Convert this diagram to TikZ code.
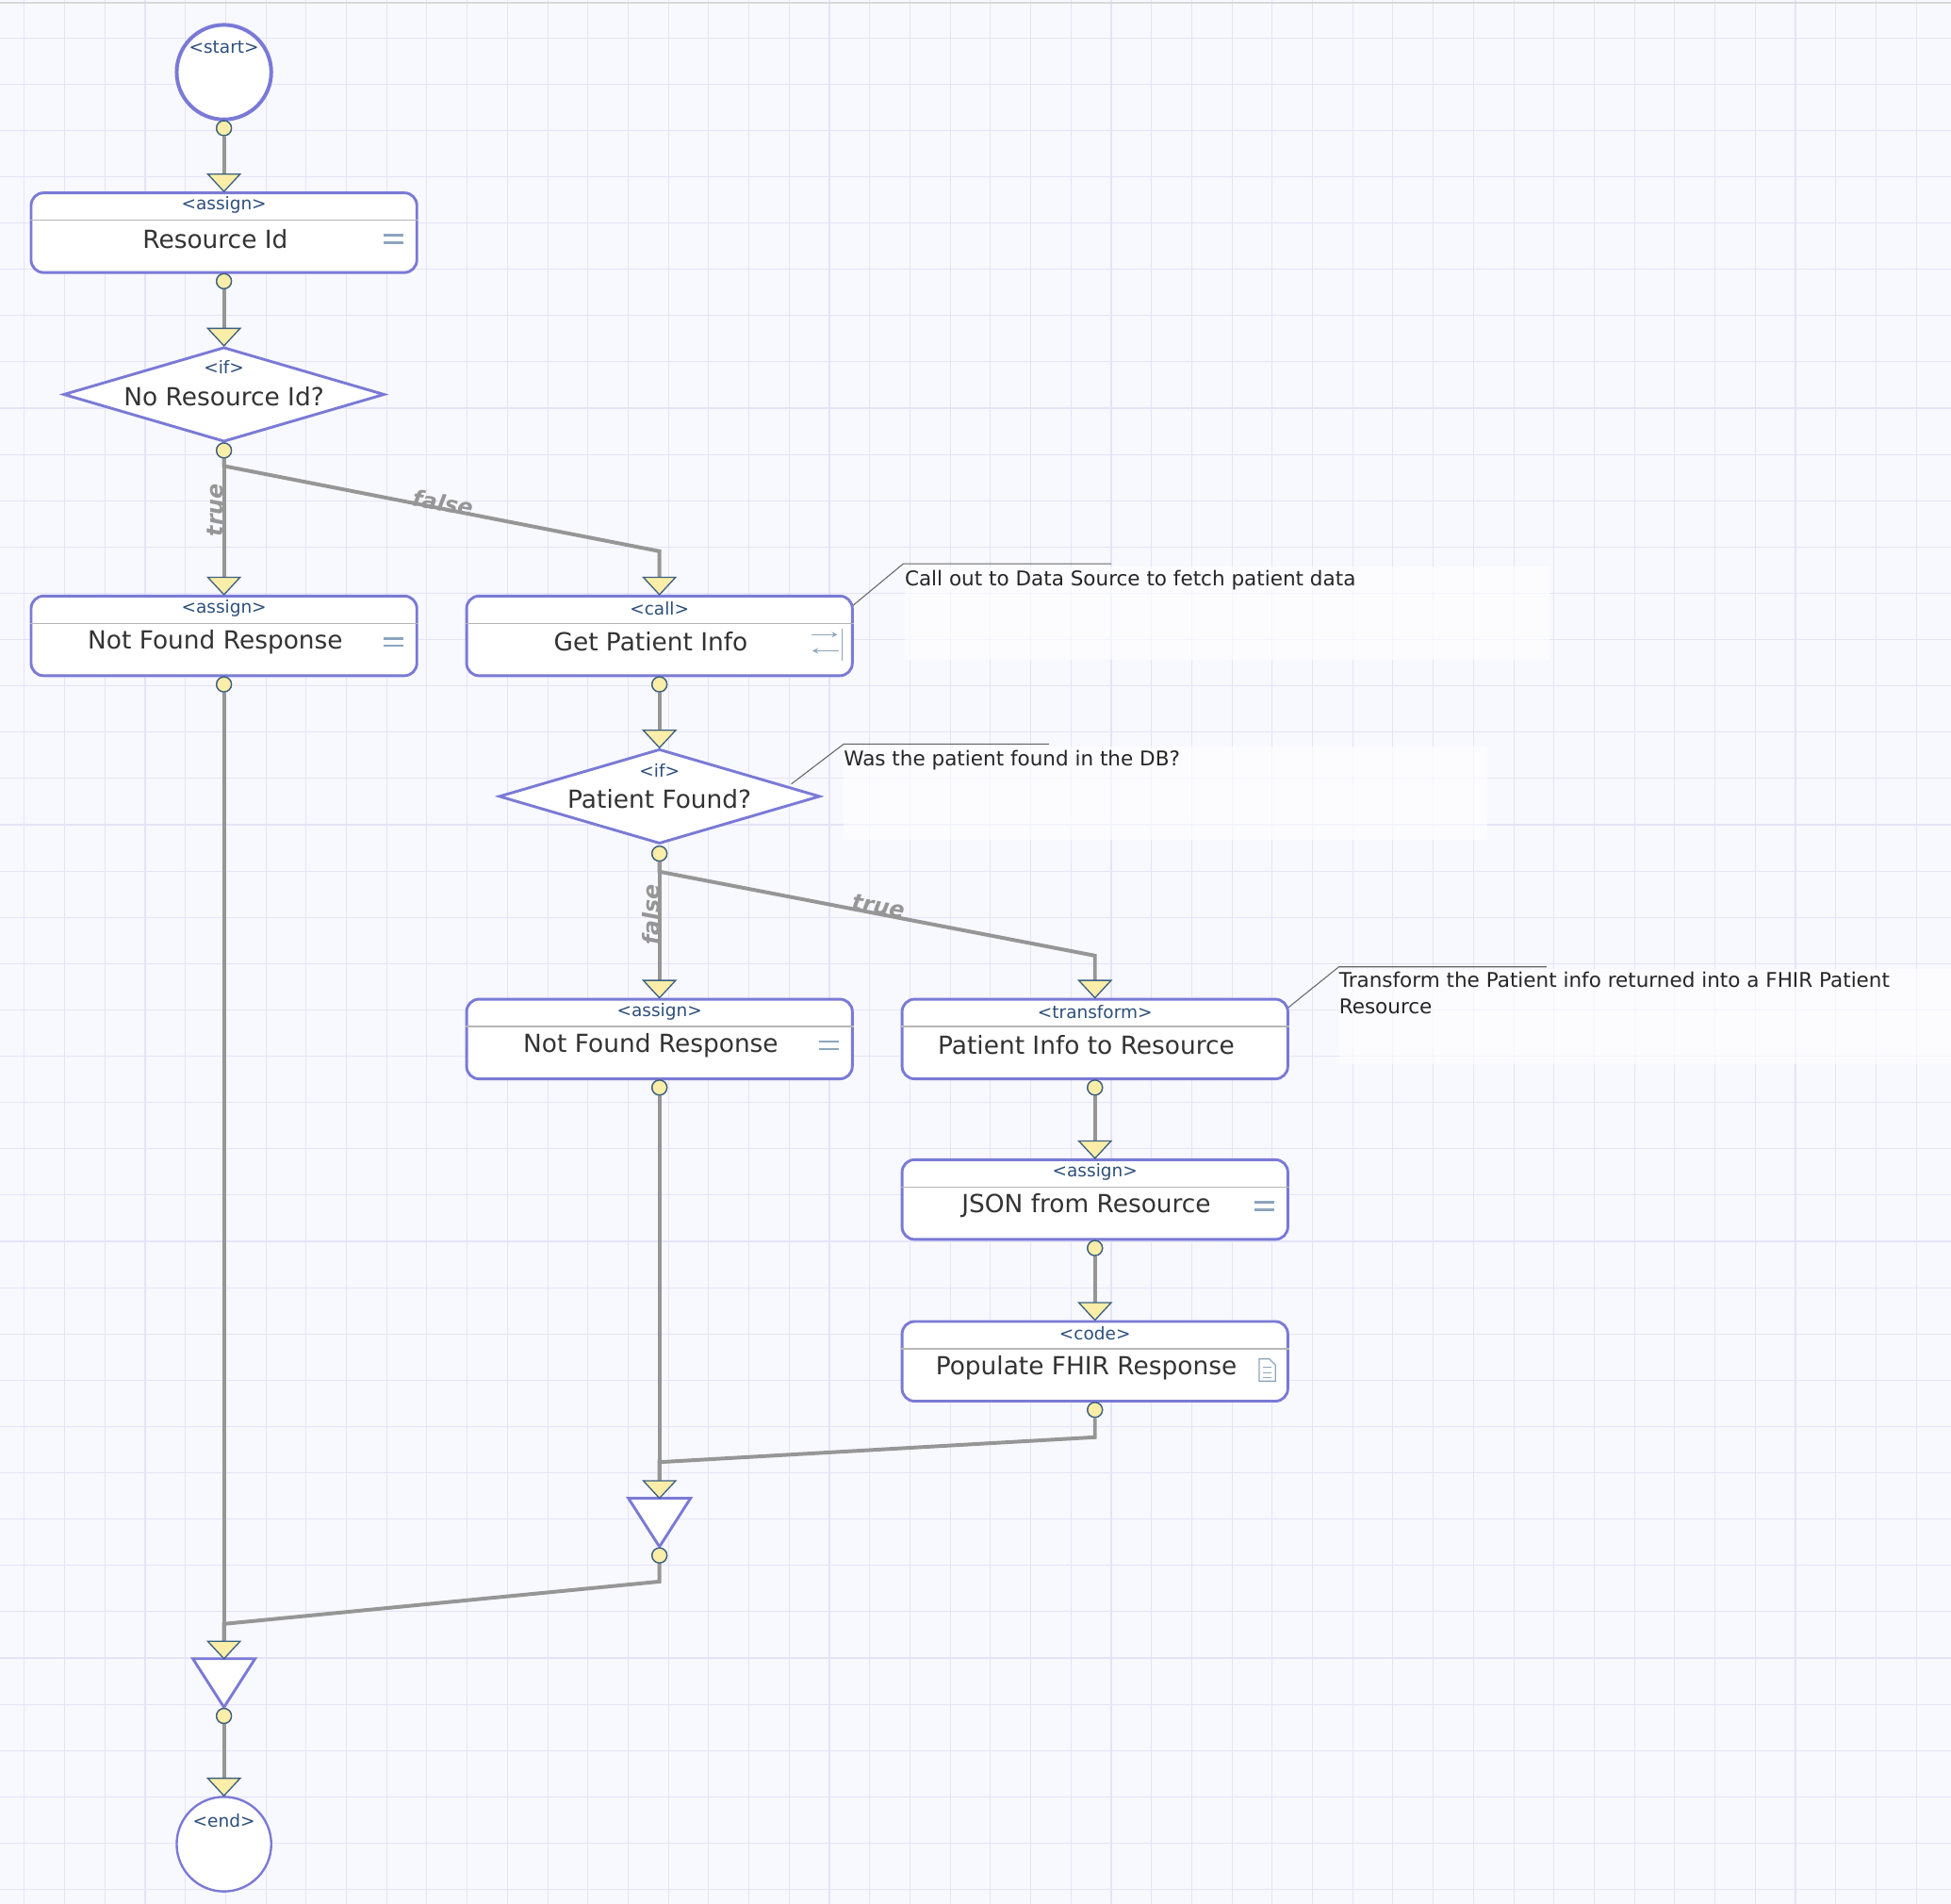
\documentclass[tikz,border=0pt]{standalone}
\usepackage{fontspec}
\setmainfont{DejaVu Sans}
\usetikzlibrary{shapes.geometric,calc}
\definecolor{bgc}{RGB}{248,248,255}
\definecolor{gridc}{RGB}{228,228,248}
\definecolor{boxc}{RGB}{122,122,214}
\definecolor{tagc}{RGB}{45,79,122}
\definecolor{lblc}{RGB}{51,51,51}
\definecolor{linec}{RGB}{150,150,150}
\definecolor{dotc}{RGB}{252,238,168}
\definecolor{dotl}{RGB}{61,96,128}
\definecolor{iconc}{RGB}{140,165,190}
\tikzset{
  actbox/.style={draw=boxc, fill=white, line width=2.2pt, rounded corners=10pt, minimum width=310pt, minimum height=64pt, inner sep=0pt},
  ifbox/.style={diamond, draw=boxc, fill=white, line width=2.2pt, minimum width=258pt, minimum height=76pt, inner sep=0pt},
  dot/.style={circle, fill=dotc, draw=dotl, line width=1pt, minimum size=12pt, inner sep=0pt},
  flow/.style={draw=linec, line width=3pt},
  tag/.style={text=tagc, font=\fontsize{14}{16}\selectfont, inner sep=0pt},
  lbl/.style={text=lblc, font=\fontsize{20}{24}\selectfont, inner sep=0pt},
  note/.style={text=black!85, font=\fontsize{16.3}{21}\selectfont, inner sep=0pt, anchor=north west, align=left},
  cond/.style={text=linec, font=\fontsize{18}{20}\selectfont\bfseries\itshape, inner sep=0pt},
  icon/.style={draw=iconc, line width=2pt},
}
% box with tag line, separator and main label
\newcommand{\actbox}[4]{\node[actbox] (#1) at (#2) {};
  \draw[linec!70, line width=1pt] ([yshift=-23pt]#1.north west) -- ([yshift=-23pt]#1.north east);
  \node[tag] at ([yshift=-11pt]#1.north) {#3};
  \node[lbl] at ([xshift=-7pt,yshift=-38pt]#1.north) {#4};}
% yellow arrow triangle, tip at #2, coordinate #1 at its base
\newcommand{\arr}[2]{\coordinate (#1) at ($(#2)+(0,-14)$);
  \filldraw[fill=dotc, draw=dotl, line width=1pt] ($(#2)+(-13,-14)$) -- ($(#2)+(13,-14)$) -- (#2) -- cycle;}
\newcommand{\eqicon}[1]{\draw[icon] ($(#1)+(-8,-3)$) -- ++(16,0); \draw[icon] ($(#1)+(-8,3)$) -- ++(16,0);}

\begin{document}
\begin{tikzpicture}[x=1pt,y=-1pt]
  \useasboundingbox (0,0) rectangle (1568,1530);
  % background grid
  \fill[bgc] (0,0) rectangle (1568,1530);
  \foreach \i in {0,...,48} \draw[gridc, line width=0.8pt] (19.6+32.35*\i,0) -- (19.6+32.35*\i,1530);
  \foreach \j in {0,...,40} \draw[gridc, line width=0.8pt] (0,30.4+37.2*\j) -- (1568,30.4+37.2*\j);
  \draw[black!15, line width=1.5pt] (0,2) -- (1568,2);

  % notes
  \fill[white, opacity=0.6] (727,455) rectangle (1245,530);
  \fill[white, opacity=0.6] (678,600) rectangle (1195,675);
  \fill[white, opacity=0.6] (1076,779) rectangle (1568,855);
  \draw[black!60, line width=0.8pt] (685,487) -- (726,453) -- (893,453);
  \draw[black!60, line width=0.8pt] (636,630) -- (678,598) -- (843,598);
  \draw[black!60, line width=0.8pt] (1035,810) -- (1076,777) -- (1243,777);
  \node[note] (n1) at (727,458) {Call out to Data Source to fetch patient data};
  \node[note] (n2) at (678,603) {Was the patient found in the DB?};
  \node[note] (n3) at (1076,781) {Transform the Patient info returned into a FHIR Patient\\Resource};

  % shapes
  \node[circle, draw=boxc, fill=white, line width=3pt, minimum size=76pt] (start) at (180,58) {};
  \node[tag] at (180,38) {<start>};
  \actbox{rid}{180,187}{<assign>}{Resource Id}
  \node[ifbox] (if1) at (180,317) {};
  \node[tag] at (180,295) {<if>};
  \node[lbl] at (180,319) {No Resource Id?};
  \actbox{nfr1}{180,511}{<assign>}{Not Found Response}
  \actbox{gpi}{530,511}{<call>}{Get Patient Info}
  \node[ifbox] (if2) at (530,640) {};
  \node[tag] at (530,619) {<if>};
  \node[lbl] at (530,642) {Patient Found?};
  \actbox{nfr2}{530,835}{<assign>}{Not Found Response}
  \actbox{pir}{880,835}{<transform>}{Patient Info to Resource}
  \actbox{jfr}{880,964}{<assign>}{JSON from Resource}
  \actbox{pfr}{880,1094}{<code>}{Populate FHIR Response}
  \node[circle, draw=boxc, fill=white, line width=1.8pt, minimum size=76pt] (end) at (180,1482) {};
  \node[tag] at (180,1463) {<end>};

  % icons
  \eqicon{316,192} \eqicon{316,516} \eqicon{666,840} \eqicon{1016,969}
  \draw[iconc, line width=1pt, -stealth] (652,510) -- (673,510);
  \draw[iconc, line width=1pt, -stealth] (674,523) -- (653,523);
  \draw[iconc, line width=1pt] (677,505) -- (677,531);
  \draw[iconc, line width=1pt] (1012,1092) -- (1012,1110) -- (1025,1110) -- (1025,1097) -- (1020,1092) -- cycle;
  \foreach \k in {1099,1103,1107} \draw[iconc, line width=0.8pt] (1015,\k) -- (1022,\k);

  % dots
  \node[dot] (d0) at (180,103) {};
  \node[dot] (d1) at (180,226) {};
  \node[dot] (d2) at (180,362) {};
  \node[dot] (d3) at (180,550) {};
  \node[dot] (d4) at (530,550) {};
  \node[dot] (d5) at (530,686) {};
  \node[dot] (d6) at (530,874) {};
  \node[dot] (d7) at (880,874) {};
  \node[dot] (d8) at (880,1003) {};
  \node[dot] (d9) at (880,1133) {};
  \node[dot] (d10) at (530,1250) {};
  \node[dot] (d11) at (180,1379) {};

  % join triangles
  \coordinate (j1) at (530,1204);
  \coordinate (j2) at (180,1333);
  \filldraw[fill=white, draw=boxc, line width=2.2pt] (505,1204) -- (555,1204) -- (530,1243) -- cycle;
  \filldraw[fill=white, draw=boxc, line width=2.2pt] (155,1333) -- (205,1333) -- (180,1372) -- cycle;

  % connectors
  \draw[flow] (d0.south) -- ($(rid.north)+(0,-14)$);
  \draw[flow] (d1.south) -- ($(if1.north)+(0,-14)$);
  \draw[flow] (d2.south) -- ($(nfr1.north)+(0,-14)$);
  \draw[flow] (d2.south) |- +(0,6) -- (530,443) -- ($(gpi.north)+(0,-14)$);
  \draw[flow] (d4.south) -- ($(if2.north)+(0,-14)$);
  \draw[flow] (d5.south) -- ($(nfr2.north)+(0,-14)$);
  \draw[flow] (d5.south) |- +(0,8) -- (880,768) -- ($(pir.north)+(0,-14)$);
  \draw[flow] (d7.south) -- ($(jfr.north)+(0,-14)$);
  \draw[flow] (d8.south) -- ($(pfr.north)+(0,-14)$);
  \draw[flow] (d9.south) -- (880,1155) -- (530,1175) -- ($(j1)+(0,-14)$);
  \draw[flow] (d6.south) -- ($(j1)+(0,-14)$);
  \draw[flow] (d10.south) -- (530,1271) -- (180,1305) -- ($(j2)+(0,-14)$);
  \draw[flow] (d3.south) -- ($(j2)+(0,-14)$);
  \draw[flow] (d11.south) -- ($(end.north)+(0,-14)$);
  \foreach \d in {d0,d1,d2,d3,d4,d5,d6,d7,d8,d9,d10,d11} \node[dot] at (\d) {};

  % arrow triangles
  \arr{a1}{rid.north} \arr{a2}{if1.north} \arr{a3}{nfr1.north} \arr{a4}{gpi.north}
  \arr{a5}{if2.north} \arr{a6}{nfr2.north} \arr{a7}{pir.north} \arr{a8}{jfr.north}
  \arr{a9}{pfr.north} \arr{a10}{j1} \arr{a11}{j2} \arr{a12}{end.north}

  % condition labels
  \node[cond, rotate=90] at (173,410) {true};
  \node[cond, rotate=-10] at (356,404) {false};
  \node[cond, rotate=90] at (523,735) {false};
  \node[cond, rotate=-10] at (706,728) {true};
\end{tikzpicture}
\end{document}
